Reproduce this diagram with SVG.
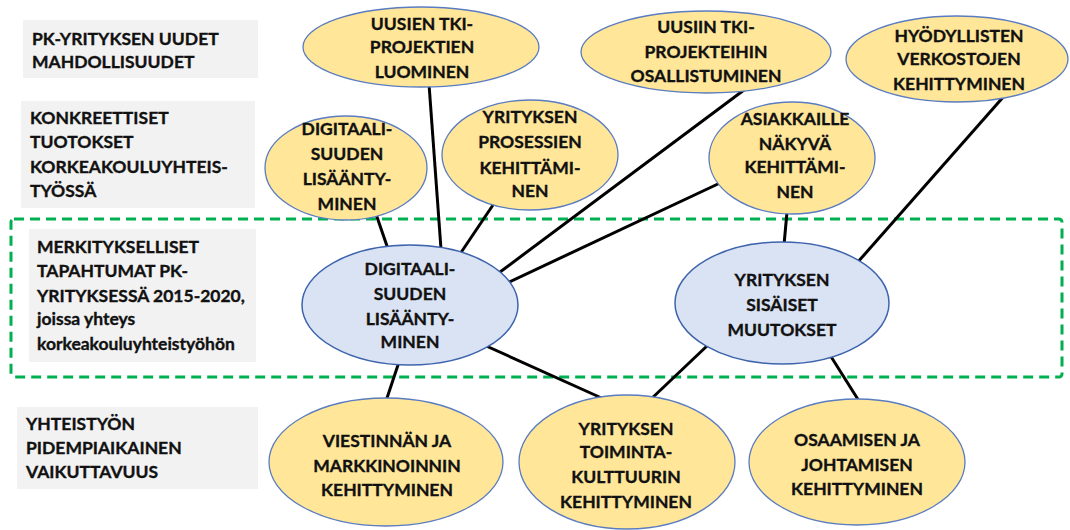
<svg xmlns="http://www.w3.org/2000/svg" width="1070" height="530" viewBox="0 0 1070 530">
  <style>
    .lbl { fill: #f2f2f2; }
    .txt { font-family: "Lato", "Liberation Sans", sans-serif; font-weight: 700; font-size: 17.5px; fill: #111; stroke: #111; stroke-width: 0.35; }
    .mid { text-anchor: middle; }
    .yel { fill: #ffe699; stroke: #5a7cc0; stroke-width: 1.3; }
    .blu { fill: #dae3f3; stroke: #3e64ad; stroke-width: 1.5; }
    .con line { stroke: #000; stroke-width: 3; stroke-linecap: butt; }
    .zone { fill: none; stroke: #00b050; stroke-width: 3; stroke-dasharray: 10 6; }
  </style>

  <!-- row captions -->
  <g id="caption-mahdollisuudet">
    <rect class="lbl" x="23" y="20" width="235" height="58"/>
    <text class="txt" x="32" y="45">PK-YRITYKSEN UUDET</text>
    <text class="txt" x="32" y="68">MAHDOLLISUUDET</text>
  </g>
  <g id="caption-tuotokset">
    <rect class="lbl" x="21" y="101" width="234" height="107"/>
    <text class="txt" x="30" y="124">KONKREETTISET</text>
    <text class="txt" x="30" y="148">TUOTOKSET</text>
    <text class="txt" x="30" y="173">KORKEAKOULUYHTEIS-</text>
    <text class="txt" x="30" y="197">TYÖSSÄ</text>
  </g>
  <g id="caption-tapahtumat">
    <rect class="lbl" x="29" y="229" width="227" height="133"/>
    <text class="txt" x="37" y="253">MERKITYKSELLISET</text>
    <text class="txt" x="37" y="277">TAPAHTUMAT PK-</text>
    <text class="txt" x="37" y="302">YRITYKSESSÄ 2015-2020,</text>
    <text class="txt" x="37" y="325">joissa yhteys</text>
    <text class="txt" x="37" y="350">korkeakouluyhteistyöhön</text>
  </g>
  <g id="caption-vaikuttavuus">
    <rect class="lbl" x="17" y="407" width="241" height="82"/>
    <text class="txt" x="26" y="430">YHTEISTYÖN</text>
    <text class="txt" x="26" y="454">PIDEMPIAIKAINEN</text>
    <text class="txt" x="26" y="478">VAIKUTTAVUUS</text>
  </g>

  <!-- events zone -->
  <rect id="zone-tapahtumat" class="zone" x="11" y="219" width="1051" height="158" rx="3"/>

  <g id="connectors" class="con">
    <line x1="376" y1="214" x2="388" y2="249"/>
    <line x1="429" y1="84" x2="441" y2="249"/>
    <line x1="495" y1="202" x2="460" y2="254"/>
    <line x1="744" y1="90" x2="496" y2="275"/>
    <line x1="720" y1="183" x2="505" y2="284"/>
    <line x1="484" y1="345" x2="606" y2="400"/>
    <line x1="399" y1="362" x2="386" y2="401"/>
    <line x1="787" y1="212" x2="784" y2="245"/>
    <line x1="1005" y1="95" x2="857" y2="263"/>
    <line x1="708" y1="345" x2="650" y2="400"/>
    <line x1="830" y1="355" x2="859" y2="401"/>
  </g>

  <!-- top row -->
  <g id="node-tki-luominen">
    <ellipse class="yel" cx="421" cy="47" rx="118" ry="40"/>
    <text class="txt mid" x="422" y="30">UUSIEN TKI-</text>
    <text class="txt mid" x="422" y="53">PROJEKTIEN</text>
    <text class="txt mid" x="422" y="78">LUOMINEN</text>
  </g>
  <g id="node-tki-osallistuminen">
    <ellipse class="yel" cx="706" cy="52" rx="125" ry="41"/>
    <text class="txt mid" x="706" y="33">UUSIIN TKI-</text>
    <text class="txt mid" x="706" y="58">PROJEKTEIHIN</text>
    <text class="txt mid" x="706" y="82">OSALLISTUMINEN</text>
  </g>
  <g id="node-verkostot">
    <ellipse class="yel" cx="957" cy="59" rx="111" ry="43"/>
    <text class="txt mid" x="959" y="42">HYÖDYLLISTEN</text>
    <text class="txt mid" x="959" y="65">VERKOSTOJEN</text>
    <text class="txt mid" x="959" y="90">KEHITTYMINEN</text>
  </g>

  <!-- second row -->
  <g id="node-digi-tuotos">
    <ellipse class="yel" cx="346" cy="168" rx="81" ry="52"/>
    <text class="txt mid" x="347" y="135">DIGITAALI-</text>
    <text class="txt mid" x="347" y="160">SUUDEN</text>
    <text class="txt mid" x="347" y="185">LISÄÄNTY-</text>
    <text class="txt mid" x="347" y="210">MINEN</text>
  </g>
  <g id="node-prosessit">
    <ellipse class="yel" cx="530" cy="155" rx="88" ry="55"/>
    <text class="txt mid" x="530" y="123">YRITYKSEN</text>
    <text class="txt mid" x="530" y="148">PROSESSIEN</text>
    <text class="txt mid" x="530" y="174">KEHITTÄMI-</text>
    <text class="txt mid" x="530" y="197">NEN</text>
  </g>
  <g id="node-asiakkaat">
    <ellipse class="yel" cx="792" cy="158" rx="83" ry="56"/>
    <text class="txt mid" x="795" y="125">ASIAKKAILLE</text>
    <text class="txt mid" x="795" y="150">NÄKYVÄ</text>
    <text class="txt mid" x="795" y="173">KEHITTÄMI-</text>
    <text class="txt mid" x="795" y="198">NEN</text>
  </g>

  <!-- events -->
  <g id="node-digi-tapahtuma">
    <ellipse class="blu" cx="410" cy="305" rx="108" ry="60"/>
    <text class="txt mid" x="410" y="275">DIGITAALI-</text>
    <text class="txt mid" x="410" y="300">SUUDEN</text>
    <text class="txt mid" x="410" y="325">LISÄÄNTY-</text>
    <text class="txt mid" x="410" y="348">MINEN</text>
  </g>
  <g id="node-sisaiset">
    <ellipse class="blu" cx="782" cy="303" rx="107" ry="61"/>
    <text class="txt mid" x="782" y="286">YRITYKSEN</text>
    <text class="txt mid" x="782" y="311">SISÄISET</text>
    <text class="txt mid" x="782" y="336">MUUTOKSET</text>
  </g>

  <!-- bottom row -->
  <g id="node-viestinta">
    <ellipse class="yel" cx="386" cy="462" rx="117" ry="64"/>
    <text class="txt mid" x="387" y="447">VIESTINNÄN JA</text>
    <text class="txt mid" x="387" y="472">MARKKINOINNIN</text>
    <text class="txt mid" x="387" y="496">KEHITTYMINEN</text>
  </g>
  <g id="node-toimintakulttuuri">
    <ellipse class="yel" cx="627" cy="462" rx="108" ry="67"/>
    <text class="txt mid" x="626" y="435">YRITYKSEN</text>
    <text class="txt mid" x="626" y="458">TOIMINTA-</text>
    <text class="txt mid" x="626" y="483">KULTTUURIN</text>
    <text class="txt mid" x="626" y="508">KEHITTYMINEN</text>
  </g>
  <g id="node-osaaminen">
    <ellipse class="yel" cx="857" cy="462" rx="108" ry="63"/>
    <text class="txt mid" x="857" y="446">OSAAMISEN JA</text>
    <text class="txt mid" x="857" y="471">JOHTAMISEN</text>
    <text class="txt mid" x="857" y="495">KEHITTYMINEN</text>
  </g>
</svg>
